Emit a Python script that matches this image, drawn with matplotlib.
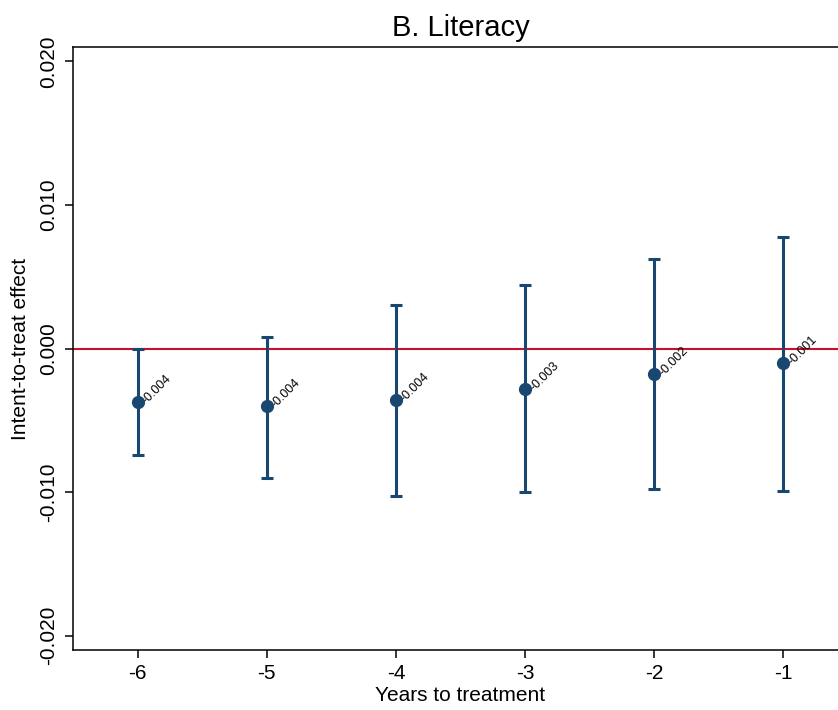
import numpy as np
import matplotlib
matplotlib.use("Agg")
import matplotlib.pyplot as plt

# event-study estimates, literacy panel
years = [-6, -5, -4, -3, -2, -1]
coef = [-0.0037, -0.0040, -0.0036, -0.0028, -0.0018, -0.0010]
ci_low = [-0.0074, -0.0090, -0.0103, -0.0100, -0.0098, -0.0099]
ci_high = [0.0000, 0.0008, 0.0030, 0.0044, 0.0062, 0.0078]
labels = ["-0.004", "-0.004", "-0.004", "-0.003", "-0.002", "-0.001"]
yticks = [-0.02, -0.01, 0.0, 0.01, 0.02]

plt.rcParams['font.family'] = ['Liberation Sans', 'DejaVu Sans']

navy = '#1a476f'
red = '#c8102e'

fig = plt.figure(figsize=(8.38, 7.1), dpi=100)
ax = fig.add_axes([73/838, 60/710, 775/838, 603/710])

ax.axhline(0, color=red, lw=1.5, zorder=1)

coef_a = np.array(coef)
yerr = [coef_a - np.array(ci_low), np.array(ci_high) - coef_a]
ax.errorbar(years, coef, yerr=yerr, fmt='o', color=navy, ms=8.5,
            elinewidth=2.2, capsize=4.5, capthick=2.2, zorder=3)

for x, y, lab in zip(years, coef, labels):
    ax.annotate(lab, (x, y), xytext=(5, 0), textcoords='offset points',
                rotation=45, rotation_mode='anchor', ha='left', va='center',
                fontsize=9)

ax.set_xlim(-6.5, -0.5)
ax.set_ylim(-0.021, 0.021)
ax.set_xticks(years)
ax.set_xticklabels([str(y) for y in years])
ax.set_yticks(yticks)
ax.set_yticklabels(['%.3f' % v for v in yticks], rotation=90, va='center')

ax.tick_params(axis='both', labelsize=15, length=6, width=1.1, direction='out')
ax.tick_params(axis='y', pad=5)
ax.tick_params(axis='x', pad=4)
for s in ax.spines.values():
    s.set_linewidth(1.1)
ax.spines['right'].set_visible(False)

ax.set_xlabel('Years to treatment', fontsize=15, labelpad=2)
ax.set_ylabel('Intent-to-treat effect', fontsize=15, labelpad=6)
ax.set_title('B. Literacy', fontsize=21, pad=8)

fig.savefig('out.png', dpi=100)
